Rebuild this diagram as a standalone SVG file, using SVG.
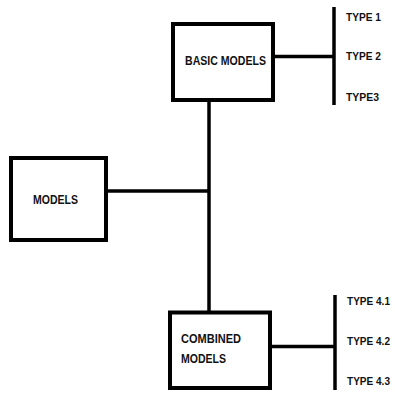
<svg xmlns="http://www.w3.org/2000/svg" width="395" height="393" viewBox="0 0 395 393">
<style>
.box{fill:#fff;stroke:#000;stroke-width:4}
.ln{stroke:#000;stroke-width:3.5;fill:none;stroke-linecap:butt}
.lbl{font-family:"Liberation Sans",Arial,sans-serif;font-weight:bold;font-size:13.5px;fill:#111}
.t{font-family:"Liberation Sans",Arial,sans-serif;font-weight:bold;font-size:10.5px;fill:#111}
</style>
<rect width="395" height="393" fill="#fff"/>
<g id="connectors">
<line class="ln" x1="209" y1="100" x2="209" y2="311"/>
<line class="ln" x1="106" y1="191" x2="209" y2="191"/>
<line class="ln" x1="273" y1="56.5" x2="334" y2="56.5"/>
<line class="ln" x1="334" y1="7" x2="334" y2="105"/>
<line class="ln" x1="270" y1="346.5" x2="335" y2="346.5"/>
<line class="ln" x1="335" y1="295" x2="335" y2="390"/>
</g>
<g id="basic-models">
<rect class="box" x="173" y="24" width="100" height="76"/>
<text class="lbl" x="185" y="65" textLength="81" lengthAdjust="spacingAndGlyphs">BASIC MODELS</text>
</g>
<g id="models">
<rect class="box" x="11" y="158" width="95" height="82"/>
<text class="lbl" x="33" y="204" textLength="45" lengthAdjust="spacingAndGlyphs">MODELS</text>
</g>
<g id="combined-models">
<rect class="box" x="170" y="312.5" width="100" height="75.5"/>
<text class="lbl" x="181" y="343" textLength="60" lengthAdjust="spacingAndGlyphs">COMBINED</text>
<text class="lbl" x="181" y="363" textLength="45" lengthAdjust="spacingAndGlyphs">MODELS</text>
</g>
<g id="types-basic">
<text class="t" x="346" y="21" textLength="35" lengthAdjust="spacingAndGlyphs">TYPE 1</text>
<text class="t" x="346" y="60" textLength="35" lengthAdjust="spacingAndGlyphs">TYPE 2</text>
<text class="t" x="346" y="101" textLength="33" lengthAdjust="spacingAndGlyphs">TYPE3</text>
</g>
<g id="types-combined">
<text class="t" x="347" y="305" textLength="43" lengthAdjust="spacingAndGlyphs">TYPE 4.1</text>
<text class="t" x="347" y="345" textLength="43" lengthAdjust="spacingAndGlyphs">TYPE 4.2</text>
<text class="t" x="347" y="385" textLength="43" lengthAdjust="spacingAndGlyphs">TYPE 4.3</text>
</g>
</svg>
